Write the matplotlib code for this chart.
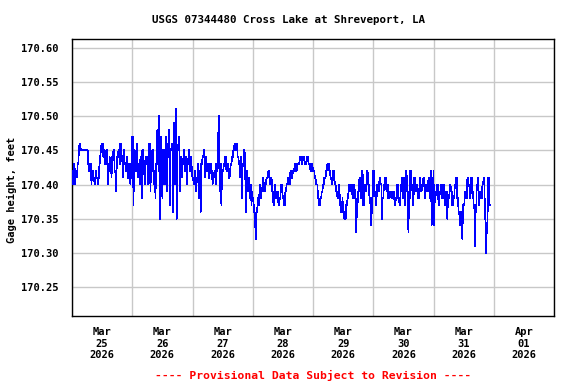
import matplotlib
matplotlib.use("Agg")
import matplotlib.pyplot as plt
import matplotlib.dates as mdates
import numpy as np
import datetime as dt

# gage height in hundredths of a foot above 170.00, 15-minute data
mar25 = [42,42,40,43,43,40,42,42,41,43,43,45,46,46,45,45,45,45,45,45,45,45,45,45,
         45,45,43,42,42,43,43,40,42,42,41,41,40,40,42,41,41,41,40,42,43,44,45,46,
         46,46,44,44,45,43,43,45,45,40,42,42,44,43,43,41,44,44,45,45,42,42,39,42,
         44,44,45,45,43,46,46,44,44,41,45,45,43,43,42,44,44,41,41,43,43,40,42,42]
mar26 = [47,47,37,45,45,42,42,46,46,41,43,43,40,44,44,38,45,45,42,42,40,44,44,43,
         44,40,40,46,46,39,43,43,45,45,40,42,42,38,43,43,48,48,42,50,35,47,47,44,
         38,45,45,40,40,47,47,39,44,44,48,48,37,45,45,46,46,36,49,49,40,44,51,35,
         45,45,47,47,39,44,44,41,43,43,45,45,42,42,44,40,43,43,45,45,42,42,44,42]
mar27 = [41,41,40,40,42,39,39,41,41,43,38,42,42,36,43,43,44,44,45,45,41,44,44,42,
         43,43,41,41,43,43,42,42,40,41,41,42,42,40,43,43,42,47,50,44,39,43,37,42,
         42,42,43,43,44,44,42,42,43,43,41,41,42,43,43,44,44,45,45,46,46,45,45,46,
         44,44,43,43,41,44,44,38,43,43,45,45,42,36,42,42,39,41,41,38,40,40,37,39]
mar28 = [38,38,36,36,34,32,36,36,38,38,37,40,40,38,39,39,41,41,39,39,40,40,41,41,
         41,42,42,40,40,41,41,39,39,37,37,40,40,38,38,39,39,37,37,38,38,40,40,39,
         38,38,37,37,39,39,40,40,41,41,40,40,42,42,41,41,42,42,42,43,43,42,42,43,
         43,43,43,44,44,44,43,43,44,44,44,43,43,43,44,44,44,43,43,43,42,42,43,43]
mar29 = [42,42,42,41,41,40,40,40,38,38,37,37,38,38,39,39,40,40,41,41,41,42,42,43,
         43,43,42,42,41,41,40,40,42,42,41,40,40,39,39,38,38,40,40,37,37,36,36,38,
         36,36,35,35,35,37,37,38,38,40,40,39,39,40,40,38,38,40,40,38,38,33,37,37,
         39,39,41,41,38,38,42,42,37,37,40,40,39,39,42,42,40,40,38,38,36,34,38,38]
mar30 = [42,42,39,39,37,37,40,40,39,39,41,41,40,40,35,38,38,40,40,41,41,39,39,40,
         38,38,38,39,39,38,38,38,39,39,37,37,38,38,40,40,38,38,37,37,40,40,41,38,
         41,41,37,37,42,42,39,39,33,38,38,42,42,40,40,37,37,41,41,39,39,40,40,38,
         38,38,41,41,39,39,40,40,41,41,38,38,40,40,39,39,41,41,38,38,42,34,36,38]
mar31 = [42,34,38,38,39,39,40,40,37,37,39,39,40,40,38,38,40,40,37,37,39,39,35,38,
         38,38,40,40,39,39,37,37,38,38,40,40,41,41,38,38,36,36,34,34,36,36,32,37,
         37,37,39,39,38,38,41,41,40,40,38,38,41,41,39,39,37,37,31,36,36,40,40,41,
         37,37,39,39,38,38,40,40,41,41,35,35,30,34,34,41,41,37,37]

hundredths = mar25 + mar26 + mar27 + mar28 + mar29 + mar30 + mar31
gage = 170.0 + np.array(hundredths) / 100.0
start = dt.datetime(2026, 3, 25, 0, 0)
times = [start + dt.timedelta(minutes=15 * i) for i in range(len(gage))]

yticks = [170.25, 170.30, 170.35, 170.40, 170.45, 170.50, 170.55, 170.60]

fig = plt.figure(figsize=(5.76, 3.84), dpi=100)
ax = fig.add_axes([72/576, 1-316/384, (554-72)/576, (316-39)/384])
ax.plot(times, gage, color="#0000ff", lw=0.5, antialiased=False, zorder=3)

ax.set_xlim(dt.datetime(2026, 3, 25), dt.datetime(2026, 4, 2))
ax.set_ylim(170.2079, 170.6126)
ax.set_yticks(yticks)
ax.yaxis.set_major_formatter(matplotlib.ticker.FormatStrFormatter("%.2f"))

# gridlines at midnight, date labels at noon
ax.xaxis.set_major_locator(mdates.DayLocator())
ax.xaxis.set_major_formatter(matplotlib.ticker.NullFormatter())
ax.xaxis.set_minor_locator(mdates.HourLocator(byhour=[12]))
ax.xaxis.set_minor_formatter(mdates.DateFormatter("%b\n%d\n%Y"))

mono = "DejaVu Sans Mono"
ax.grid(True, which="major", color="#c8c8c8", lw=1.0)
ax.tick_params(which="both", length=0)
ax.tick_params(axis="y", pad=10, labelsize=7.5)
ax.tick_params(axis="x", which="minor", pad=8, labelsize=7.5)
for lab in ax.get_yticklabels() + ax.get_xticklabels(minor=True):
    lab.set_fontfamily(mono)
    lab.set_fontweight("bold")
    lab.set_linespacing(1.2)
for s in ax.spines.values():
    s.set_color("black")
    s.set_linewidth(1.0)

fig.text(0.5, 1-20/384, "USGS 07344480 Cross Lake at Shreveport, LA", ha="center", va="center",
         fontsize=7.8, fontfamily=mono, fontweight="bold")
fig.text(12/576, 1-190/384, "Gage height, feet", rotation=90, ha="center", va="center",
         fontsize=7.5, fontfamily=mono, fontweight="bold")
fig.text(313/576, 1-375/384, "---- Provisional Data Subject to Revision ----", ha="center", va="center",
         fontsize=8.2, fontfamily=mono, fontweight="bold", color="#ff0000")

fig.savefig("out.png", dpi=100)
